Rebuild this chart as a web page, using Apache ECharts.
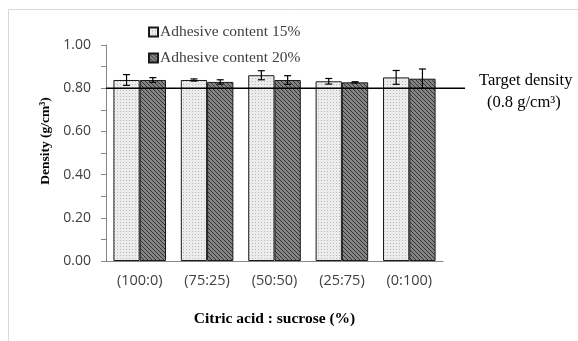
<!DOCTYPE html>
<html><head><meta charset="utf-8">
<script src="https://cdn.jsdelivr.net/npm/echarts@6/dist/echarts.min.js"></script>
<style>html,body{margin:0;padding:0;background:#fff}#c{width:578px;height:341px}</style>
</head><body><div id="c"></div>
<script>
const categories = ['(100:0)', '(75:25)', '(50:50)', '(25:75)', '(0:100)'];
const seriesNames = ['Adhesive content 15%', 'Adhesive content 20%'];
const density15 = [0.838, 0.838, 0.860, 0.832, 0.850];
const density20 = [0.838, 0.829, 0.838, 0.827, 0.844];
const err15 = [0.025, 0.005, 0.021, 0.013, 0.032];
const err20 = [0.011, 0.010, 0.020, 0.003, 0.045];
const targetDensity = 0.8;
const yTicks = [0, 0.2, 0.4, 0.6, 0.8, 1.0];

function makePattern(kind) {
  const c = document.createElement('canvas');
  const s = kind === 'dots' ? 3 : 4;
  c.width = s; c.height = s;
  const g = c.getContext('2d');
  if (kind === 'dots') {
    g.fillStyle = '#ececec'; g.fillRect(0, 0, s, s);
    g.fillStyle = '#b8b8b8'; g.fillRect(0, 0, 1, 1);
  } else {
    g.fillStyle = '#858585'; g.fillRect(0, 0, s, s);
    g.fillStyle = '#333';
    for (let i = 0; i < s; i++) g.fillRect(i, i, 1, 1);
  }
  return c;
}
const pat15 = { image: makePattern('dots'), repeat: 'repeat' };
const pat20 = { image: makePattern('hatch'), repeat: 'repeat' };

function errData(vals, errs) { return vals.map((v, i) => [i, v - errs[i], v + errs[i]]); }
function errRender(offset) {
  return function (params, api) {
    const i = api.value(0);
    const lo = api.coord([i, api.value(1)]);
    const hi = api.coord([i, api.value(2)]);
    const bw = api.size([1, 0])[0] * 0.78 / 2;
    const x = lo[0] + offset * bw / 2;
    const cap = 3.5;
    const st = { stroke: '#000', lineWidth: 1.2 };
    return { type: 'group', children: [
      { type: 'line', shape: { x1: x, y1: lo[1], x2: x, y2: hi[1] }, style: st },
      { type: 'line', shape: { x1: x - cap, y1: lo[1], x2: x + cap, y2: lo[1] }, style: st },
      { type: 'line', shape: { x1: x - cap, y1: hi[1], x2: x + cap, y2: hi[1] }, style: st }
    ]};
  };
}

const chart = echarts.init(document.getElementById('c'), null, { renderer: 'canvas' });
chart.setOption({
  animation: false,
  backgroundColor: '#fff',
  graphic: [
    { type: 'polyline', shape: { points: [[8.5, 345], [8.5, 9.5], [580, 9.5]] }, style: { stroke: '#d9d9d9', fill: null, lineWidth: 1 }, silent: true },
    { type: 'text', left: 479, top: 72, style: { text: 'Target density', font: '16.5px "Liberation Serif"', fill: '#000' } },
    { type: 'text', left: 487, top: 94, style: { text: '(0.8 g/cm³)', font: '16.5px "Liberation Serif"', fill: '#000' } }
  ],
  legend: {
    orient: 'vertical', left: 143, top: 19, itemGap: 10, itemWidth: 9, itemHeight: 9,
    icon: 'rect', data: seriesNames,
    textStyle: { fontFamily: 'Liberation Serif', fontSize: 15.5, color: '#404040', padding: [0, 0, 0, -3] }
  },
  grid: { left: 106, right: 135, top: 45, bottom: 80 },
  xAxis: {
    type: 'category', data: categories,
    axisLine: { lineStyle: { color: '#868686', width: 1 } },
    axisTick: { show: false },
    axisLabel: { fontFamily: 'Open Sans', fontSize: 14.5, color: '#404040', margin: 12 },
    name: 'Citric acid : sucrose (%)', nameLocation: 'middle', nameGap: 50,
    nameTextStyle: { fontFamily: 'Liberation Serif', fontWeight: 'bold', fontSize: 15.5, color: '#000' }
  },
  yAxis: {
    type: 'value', min: 0, max: 1, interval: 0.2,
    axisLine: { show: true, lineStyle: { color: '#868686' } },
    axisTick: { show: true, length: 5, lineStyle: { color: '#868686' } },
    minorTick: { show: true, splitNumber: 2, length: 5, lineStyle: { color: '#868686' } },
    splitLine: { show: false },
    axisLabel: { fontFamily: 'Open Sans', fontSize: 14, color: '#404040', margin: 15, formatter: v => v.toFixed(2) },
    name: 'Density (g/cm³)', nameLocation: 'middle', nameGap: 43, nameRotate: 90,
    nameTextStyle: { fontFamily: 'Liberation Serif', fontWeight: 'bold', fontSize: 13.5, color: '#000', padding: [0, 0, 0, 24] }
  },
  series: [
    { name: seriesNames[0], type: 'bar', data: density15, barGap: '0%', barCategoryGap: '22%',
      itemStyle: { color: pat15, borderColor: '#1a1a1a', borderWidth: 1 } },
    { name: seriesNames[1], type: 'bar', data: density20,
      itemStyle: { color: pat20, borderColor: '#1a1a1a', borderWidth: 1 } },
    { type: 'custom', data: errData(density15, err15), renderItem: errRender(-1), z: 5, silent: true },
    { type: 'custom', data: errData(density20, err20), renderItem: errRender(1), z: 5, silent: true },
    { type: 'custom', data: [[0, targetDensity]], z: 6, silent: true,
      renderItem: function (params, api) {
        const cs = params.coordSys;
        const p = api.coord([0, api.value(1)]);
        return { type: 'line', shape: { x1: cs.x, y1: p[1], x2: cs.x + cs.width + 22, y2: p[1] },
          style: { stroke: '#000', lineWidth: 1.6 } };
      } }
  ]
});
</script></body></html>
